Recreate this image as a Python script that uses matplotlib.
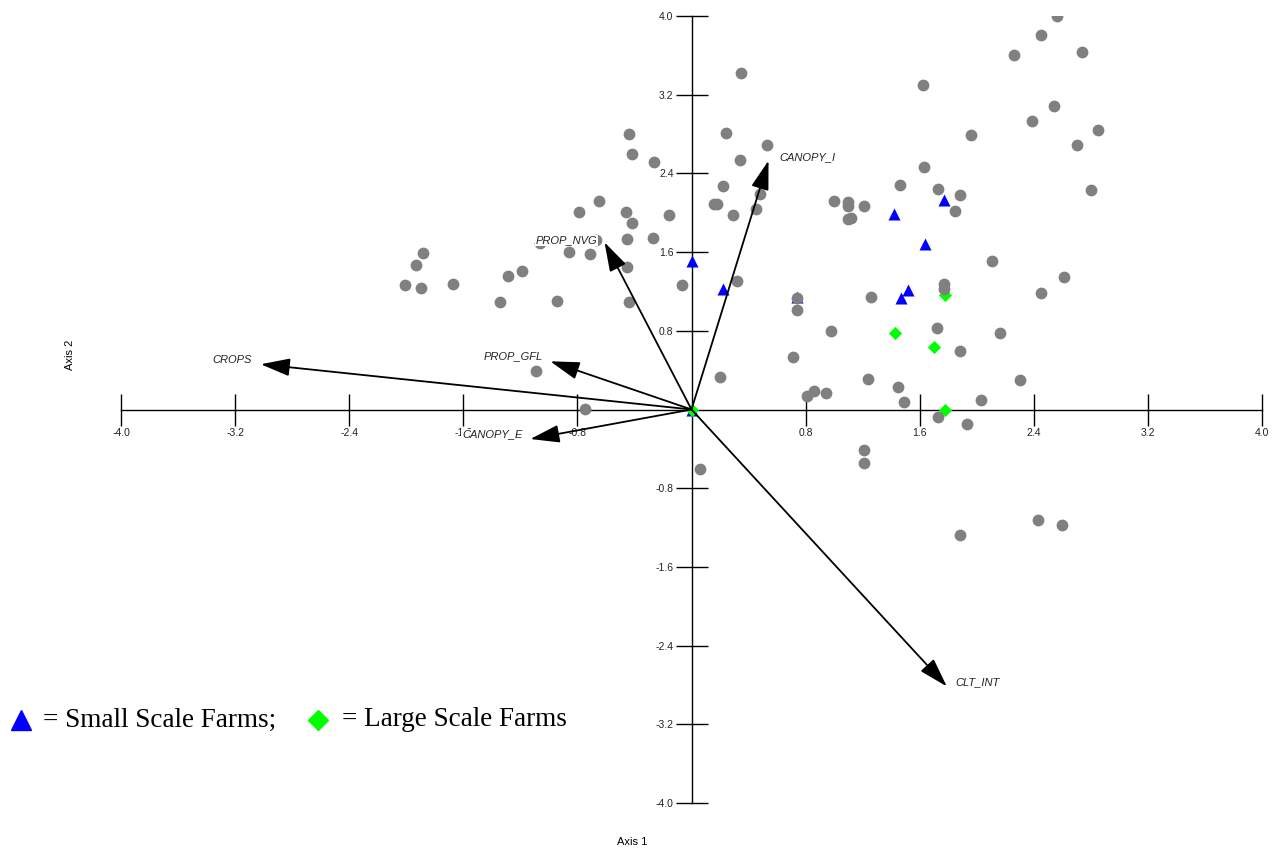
import numpy as np
import matplotlib
matplotlib.use('Agg')
import matplotlib.pyplot as plt

# site scores (gray)
site_x = [0.35, -0.44, -0.42, -0.26, 0.24, 0.34, 0.53, 0.22, 0.16, 0.18,
          0.48, 0.45, 0.29, -0.16, -0.65, -0.79, -0.46, -0.42, -0.45, -0.27,
          -1.06, -0.67, -0.86, -0.71, -0.45, -1.88, -1.93, -2.01, -1.90, -1.67,
          -1.29, -1.19, -1.34, -0.94, -0.44, -0.07, 0.32, 0.74, 0.74, 0.71,
          0.20, -1.09, -0.75, 0.81, 0.86, 2.56, 2.45, 2.26, 2.74, 1.62,
          2.54, 2.39, 1.96, 2.85, 2.70, 1.63, 1.46, 1.73, 1.88, 1.85,
          2.80, 1.00, 1.10, 1.10, 1.21, 1.10, 1.12, 2.11, 2.61, 1.77,
          1.77, 1.26, 2.45, 0.98, 1.72, 2.16, 1.88, 1.24, 2.30, 0.94,
          1.45, 1.49, 2.03, 1.73, 1.93, 0.06, 1.21, 1.21, 1.88, 2.43, 2.60]
site_y = [3.42, 2.80, 2.60, 2.52, 2.81, 2.54, 2.69, 2.27, 2.09, 2.09,
          2.19, 2.04, 1.98, 1.98, 2.12, 2.01, 2.01, 1.90, 1.73, 1.74,
          1.69, 1.72, 1.60, 1.58, 1.45, 1.59, 1.47, 1.27, 1.23, 1.28,
          1.36, 1.41, 1.09, 1.10, 1.09, 1.27, 1.31, 1.13, 1.01, 0.53,
          0.33, 0.39, 0.01, 0.14, 0.19, 4.00, 3.81, 3.60, 3.63, 3.30,
          3.09, 2.93, 2.79, 2.84, 2.69, 2.47, 2.28, 2.24, 2.18, 2.02,
          2.23, 2.12, 2.11, 2.07, 2.07, 1.94, 1.95, 1.51, 1.35, 1.28,
          1.22, 1.14, 1.18, 0.80, 0.83, 0.78, 0.59, 0.31, 0.30, 0.17,
          0.23, 0.08, 0.10, -0.08, -0.15, -0.60, -0.41, -0.54, -1.28, -1.12, -1.17]

small_x = [0.0, 0.22, 0.74, 1.77, 1.42, 1.64, 1.52, 1.47, 0.0]
small_y = [1.51, 1.22, 1.14, 2.13, 1.99, 1.68, 1.21, 1.13, 0.0]

large_x = [1.78, 1.43, 1.70, 1.78, 0.0]
large_y = [1.16, 0.78, 0.64, 0.0, 0.0]

# environmental vectors
vec_names = ['CROPS', 'PROP_GFL', 'PROP_NVG', 'CANOPY_I', 'CANOPY_E', 'CLT_INT']
vec_x = [-3.02, -0.99, -0.61, 0.54, -1.13, 1.79]
vec_y = [0.46, 0.49, 1.70, 2.53, -0.30, -2.815]
lab_x = [-3.08, -1.045, -0.66, 0.617, -1.185, 1.85]
lab_y = [0.50, 0.54, 1.72, 2.57, -0.254, -2.77]
lab_ha = ['right', 'right', 'right', 'left', 'right', 'left']

ticks = [-4.0, -3.2, -2.4, -1.6, -0.8, 0.8, 1.6, 2.4, 3.2, 4.0]

W, H = 1277, 851
fig = plt.figure(figsize=(W / 100, H / 100), dpi=100)
ax = fig.add_axes([121 / W, (H - 803) / H, 1141 / W, 787 / H])
ax.set_xlim(-4, 4)
ax.set_ylim(-4, 4)
for s in ['top', 'right']:
    ax.spines[s].set_visible(False)
for s in ['left', 'bottom']:
    ax.spines[s].set_position(('data', 0))
    ax.spines[s].set_linewidth(1.0)
ax.set_xticks(ticks)
ax.set_yticks(ticks)
ax.set_xticklabels(['%.1f' % t for t in ticks])
ax.set_yticklabels(['%.1f' % t for t in ticks])
ax.tick_params(direction='inout', length=23, width=1.0, labelsize=7.5, pad=1.5)
for lab in ax.get_xticklabels() + ax.get_yticklabels():
    lab.set_fontfamily('Liberation Sans')
    lab.set_color('#222222')
ax.patch.set_alpha(0)

ax.scatter(small_x, small_y, marker='^', s=75, color='#0000ff', zorder=3, linewidths=0)
ax.scatter(large_x, large_y, marker='D', s=45, color='#00ff00', zorder=4, linewidths=0)
ax.scatter(site_x, site_y, marker='o', s=72, color='#808080', zorder=5, linewidths=0)

for name, vx, vy, tx, ty, ha in zip(vec_names, vec_x, vec_y, lab_x, lab_y, lab_ha):
    ax.annotate('', xy=(vx, vy), xytext=(0, 0),
                arrowprops=dict(arrowstyle='-|>,head_length=1.8,head_width=0.55',
                                color='black', lw=1.3, shrinkA=0, shrinkB=0),
                zorder=6)
    ax.text(tx, ty, name, ha=ha, va='center', fontsize=8, style='italic',
            family='Liberation Sans', color='#222222', zorder=7,
            bbox=dict(facecolor='white', edgecolor='none', pad=0.5))

# axis titles
fig.text(632 / W, 1 - 842 / H, 'Axis 1', ha='center', va='center', fontsize=8,
         family='Liberation Sans')
fig.text(70 / W, 1 - 355 / H, 'Axis 2', ha='center', va='center', fontsize=8,
         family='Liberation Sans', rotation=90)

# legend
ax.plot([20.5 / W], [1 - 720 / H], marker='^', markersize=15, color='#0000ff',
        transform=fig.transFigure, clip_on=False, linestyle='none')
fig.text(43 / W, 1 - 720 / H, '= Small Scale Farms;', ha='left', va='center',
         fontsize=19.5, family='Liberation Serif')
ax.plot([318 / W], [1 - 720 / H], marker='D', markersize=10, color='#00ff00',
        transform=fig.transFigure, clip_on=False, linestyle='none')
fig.text(342 / W, 1 - 720 / H, '= Large Scale Farms', ha='left', va='center',
         fontsize=19.5, family='Liberation Serif')

fig.savefig('out.png', dpi=100)
